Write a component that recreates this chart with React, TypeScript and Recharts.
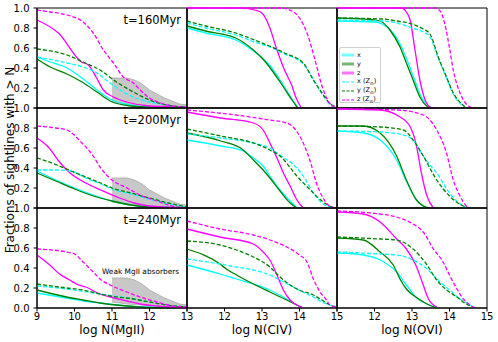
import { ComposedChart, Line, Area, XAxis, YAxis, ReferenceArea } from 'recharts'

type Pt = [number, number]

const FONT = 'DejaVu Sans, sans-serif'

// series order in every panel: x, y, z, x (Zsun), y (Zsun), z (Zsun)
const seriesNames = ['x', 'y', 'z', 'x', 'y', 'z']
const seriesColors = ['cyan', 'green', 'magenta', 'cyan', 'green', 'magenta']
const seriesDashed = [false, false, false, true, true, true]

const times = ['t=160Myr', 't=200Myr', 't=240Myr']
const ionLabels = ['log N(MgII)', 'log N(CIV)', 'log N(OVI)']
const mgTicks = [9, 10, 11, 12, 13]
const ionTicks = [11, 12, 13, 14, 15]
const fracTicks = [0, 0.2, 0.4, 0.6, 0.8, 1.0]

// weak MgII absorbers band
const weakX = [11, 11.2, 11.4, 11.6, 11.8, 12.0, 12.2, 12.4, 12.6, 12.8, 13.0]
const weakLow = [0.06, 0.05, 0.04, 0.035, 0.03, 0.02, 0.015, 0.01, 0.008, 0.005, 0.002]
const weakHigh = [0.3, 0.3, 0.3, 0.28, 0.24, 0.18, 0.14, 0.1, 0.07, 0.04, 0.03]

// t = 160 Myr
const mg160: Pt[][] = [
  [[9, 0.51], [9.35, 0.46], [9.8, 0.4], [10.2, 0.3], [10.6, 0.18], [10.95, 0.09], [11.5, 0.03], [12, 0.01], [13, 0]],
  [[9, 0.49], [9.35, 0.41], [9.8, 0.34], [10.2, 0.26], [10.6, 0.16], [10.95, 0.07], [11.5, 0.02], [12, 0.01], [13, 0]],
  [[9, 0.88], [9.57, 0.75], [10.19, 0.46], [10.37, 0.43], [10.59, 0.3], [10.77, 0.18], [11.04, 0.11], [11.39, 0.06], [12, 0.02], [12.8, 0.01], [13, 0]],
  [[9, 0.51], [9.8, 0.45], [10.23, 0.41], [10.6, 0.35], [10.95, 0.25], [11.3, 0.16], [11.57, 0.11], [12, 0.06], [12.46, 0.03], [13, 0]],
  [[9, 0.59], [9.8, 0.53], [10.23, 0.46], [10.68, 0.38], [11.12, 0.26], [11.57, 0.16], [12, 0.08], [12.46, 0.03], [13, 0.01]],
  [[9, 0.98], [9.35, 0.96], [9.8, 0.93], [10.23, 0.86], [10.5, 0.75], [10.77, 0.58], [11.04, 0.45], [11.3, 0.31], [11.57, 0.25], [11.75, 0.18], [12, 0.1], [12.3, 0.05], [12.6, 0.02], [13, 0.01]],
]
const civ160: Pt[][] = [
  [[11, 0.8], [11.5, 0.75], [12.3, 0.68], [12.77, 0.57], [13, 0.5], [13.2, 0.43], [13.5, 0.27], [13.8, 0.09], [13.97, 0]],
  [[11, 0.82], [11.5, 0.77], [12.3, 0.7], [12.77, 0.58], [13, 0.5], [13.2, 0.41], [13.5, 0.25], [13.8, 0.08], [13.95, 0]],
  [[11, 1], [12.5, 1], [12.8, 0.98], [13, 0.95], [13.2, 0.81], [13.4, 0.58], [13.6, 0.38], [13.8, 0.22], [13.9, 0.11], [14.05, 0]],
  [[11, 0.85], [11.5, 0.8], [12.3, 0.73], [12.8, 0.66], [13.2, 0.61], [13.6, 0.54], [14.1, 0.44], [14.4, 0.27], [14.6, 0.14], [14.8, 0.04], [15, 0]],
  [[11, 0.87], [11.5, 0.82], [12.3, 0.75], [12.8, 0.68], [13.2, 0.62], [13.6, 0.55], [14.1, 0.45], [14.37, 0.28], [14.6, 0.15], [14.8, 0.05], [15, 0.01]],
  [[11, 1], [13.5, 1], [13.8, 0.97], [14, 0.9], [14.2, 0.75], [14.4, 0.5], [14.6, 0.22], [14.8, 0.05], [15, 0]],
]
const ovi160: Pt[][] = [
  [[11, 0.87], [12, 0.86], [12.2, 0.84], [12.45, 0.77], [12.72, 0.61], [12.9, 0.45], [13.07, 0.28], [13.25, 0.11], [13.45, 0.02], [13.55, 0]],
  [[11, 0.9], [12, 0.88], [12.15, 0.87], [12.41, 0.78], [12.68, 0.61], [12.85, 0.45], [13.03, 0.28], [13.21, 0.11], [13.39, 0.02], [13.5, 0]],
  [[11, 1], [12.72, 1], [12.85, 0.96], [12.95, 0.88], [13.08, 0.58], [13.21, 0.28], [13.35, 0.08], [13.48, 0.01], [13.6, 0]],
  [[11, 0.88], [12.2, 0.87], [12.6, 0.85], [13, 0.8], [13.3, 0.76], [13.48, 0.71], [13.7, 0.5], [13.92, 0.3], [14.1, 0.14], [14.3, 0.04], [14.45, 0]],
  [[11, 0.9], [12.2, 0.89], [12.6, 0.87], [13, 0.84], [13.3, 0.79], [13.48, 0.74], [13.7, 0.51], [13.92, 0.31], [14.1, 0.15], [14.3, 0.05], [14.45, 0]],
  [[11, 1], [13.6, 1], [13.75, 0.97], [13.9, 0.8], [14, 0.6], [14.1, 0.38], [14.25, 0.18], [14.37, 0.08], [14.6, 0]],
]

// t = 200 Myr
const mg200: Pt[][] = [
  [[9, 0.37], [9.5, 0.28], [10, 0.2], [10.5, 0.13], [11, 0.07], [11.5, 0.03], [12, 0.01], [13, 0]],
  [[9, 0.35], [9.5, 0.27], [10, 0.19], [10.5, 0.12], [11, 0.07], [11.5, 0.03], [12, 0.01], [13, 0]],
  [[9, 0.7], [9.3, 0.61], [9.6, 0.46], [9.85, 0.36], [10.3, 0.25], [10.7, 0.18], [11.2, 0.1], [11.6, 0.05], [12, 0.02], [13, 0]],
  [[9, 0.38], [9.5, 0.38], [9.9, 0.37], [10.3, 0.3], [10.7, 0.24], [11, 0.19], [11.5, 0.14], [12, 0.09], [12.5, 0.04], [13, 0.01]],
  [[9, 0.5], [9.4, 0.45], [9.85, 0.38], [10.3, 0.31], [10.7, 0.25], [11, 0.2], [11.5, 0.15], [12, 0.1], [12.5, 0.05], [13, 0.01]],
  [[9, 0.82], [9.5, 0.8], [9.8, 0.78], [10.2, 0.65], [10.5, 0.52], [10.7, 0.4], [11, 0.28], [11.4, 0.2], [11.75, 0.13], [12.2, 0.07], [12.6, 0.02], [13, 0]],
]
const civ200: Pt[][] = [
  [[11, 0.68], [11.9, 0.62], [12.5, 0.57], [12.77, 0.5], [13.03, 0.42], [13.21, 0.32], [13.48, 0.18], [13.75, 0.07], [13.93, 0]],
  [[11, 0.75], [11.9, 0.67], [12.5, 0.58], [12.77, 0.48], [13.03, 0.38], [13.21, 0.3], [13.48, 0.17], [13.75, 0.05], [13.93, 0]],
  [[11, 0.96], [11.9, 0.9], [12.77, 0.85], [13.03, 0.78], [13.21, 0.65], [13.4, 0.5], [13.57, 0.35], [13.75, 0.22], [13.93, 0.08], [14.1, 0]],
  [[11, 0.74], [11.9, 0.7], [12.77, 0.65], [13.21, 0.6], [13.48, 0.53], [13.93, 0.4], [14.1, 0.32], [14.37, 0.15], [14.6, 0.05], [14.8, 0.01], [15, 0]],
  [[11, 0.79], [11.9, 0.72], [12.77, 0.65], [13.21, 0.58], [13.48, 0.52], [13.93, 0.32], [14.37, 0.15], [14.6, 0.07], [14.8, 0.02], [15, 0]],
  [[11, 0.98], [12.3, 0.93], [13.2, 0.88], [13.66, 0.85], [13.9, 0.78], [14.1, 0.65], [14.3, 0.45], [14.45, 0.25], [14.6, 0.12], [14.8, 0.02], [15, 0]],
]
const ovi200: Pt[][] = [
  [[11, 0.77], [11.7, 0.75], [12.15, 0.68], [12.59, 0.48], [12.85, 0.27], [13.12, 0.08], [13.4, 0]],
  [[11, 0.82], [11.7, 0.82], [12.15, 0.75], [12.59, 0.52], [12.85, 0.28], [13.12, 0.08], [13.3, 0.02], [13.48, 0]],
  [[11, 0.99], [12.15, 0.98], [12.59, 0.93], [12.94, 0.82], [13.12, 0.62], [13.25, 0.35], [13.4, 0.12], [13.57, 0]],
  [[11, 0.77], [12.15, 0.76], [12.77, 0.73], [13.03, 0.68], [13.3, 0.52], [13.48, 0.43], [13.66, 0.35], [14, 0.15], [14.37, 0.02], [14.55, 0]],
  [[11, 0.82], [12.15, 0.81], [12.77, 0.78], [13.03, 0.68], [13.3, 0.52], [13.66, 0.28], [14, 0.12], [14.37, 0.02], [14.55, 0]],
  [[11, 0.99], [12.59, 0.98], [13.3, 0.93], [13.66, 0.78], [13.92, 0.55], [14.1, 0.28], [14.28, 0.12], [14.45, 0.02], [14.55, 0]],
]

// t = 240 Myr
const mg240: Pt[][] = [
  [[9, 0.15], [9.79, 0.1], [10.23, 0.07], [10.68, 0.05], [11.12, 0.03], [11.57, 0.015], [12.5, 0.003], [13, 0]],
  [[9, 0.18], [9.79, 0.11], [10.23, 0.08], [10.68, 0.05], [11.12, 0.03], [11.57, 0.015], [12, 0.005], [13, 0]],
  [[9, 0.53], [9.34, 0.43], [9.6, 0.34], [9.87, 0.28], [10.05, 0.24], [10.3, 0.21], [10.68, 0.14], [10.95, 0.11], [11.4, 0.07], [11.75, 0.04], [12.2, 0.02], [13, 0]],
  [[9, 0.22], [9.79, 0.19], [10.68, 0.14], [11.57, 0.09], [12, 0.06], [12.46, 0.03], [13, 0.01]],
  [[9, 0.24], [9.79, 0.2], [10.23, 0.18], [10.68, 0.14], [10.95, 0.12], [11.57, 0.09], [12, 0.06], [12.46, 0.03], [13, 0.01]],
  [[9, 0.59], [9.79, 0.56], [10, 0.54], [10.23, 0.46], [10.5, 0.36], [10.68, 0.29], [10.95, 0.23], [11.4, 0.16], [11.75, 0.11], [12.2, 0.06], [12.6, 0.02], [13, 0.01]],
]
const civ240: Pt[][] = [
  [[11, 0.43], [11.88, 0.34], [12.32, 0.29], [12.77, 0.24], [13.21, 0.18], [13.66, 0.09], [13.93, 0.03], [14.1, 0]],
  [[11, 0.59], [11.88, 0.44], [12.05, 0.39], [12.32, 0.33], [12.77, 0.24], [13.21, 0.16], [13.66, 0.08], [13.93, 0.03], [14.1, 0]],
  [[11, 0.79], [11.88, 0.71], [12.77, 0.64], [13.03, 0.56], [13.21, 0.48], [13.4, 0.33], [13.57, 0.18], [13.75, 0.08], [13.93, 0.03], [14.1, 0]],
  [[11, 0.49], [11.88, 0.44], [12.32, 0.41], [12.77, 0.38], [13.21, 0.33], [13.48, 0.28], [13.93, 0.19], [14.37, 0.11], [14.6, 0.06], [14.81, 0.03], [15, 0.01]],
  [[11, 0.67], [11.88, 0.63], [12.32, 0.58], [12.77, 0.51], [13.21, 0.41], [13.48, 0.31], [13.93, 0.19], [14.37, 0.13], [14.6, 0.08], [14.81, 0.03], [15, 0.01]],
  [[11, 0.87], [11.88, 0.79], [12.77, 0.73], [13.21, 0.68], [13.66, 0.61], [14, 0.53], [14.2, 0.46], [14.37, 0.29], [14.55, 0.16], [14.72, 0.08], [14.81, 0.03], [15, 0.01]],
]
const ovi240: Pt[][] = [
  [[11, 0.55], [11.7, 0.53], [12.15, 0.48], [12.59, 0.36], [12.85, 0.23], [13.1, 0.11], [13.4, 0.04], [13.66, 0]],
  [[11, 0.7], [11.7, 0.68], [12.15, 0.56], [12.5, 0.43], [12.68, 0.29], [12.85, 0.19], [13.1, 0.11], [13.4, 0.04], [13.66, 0]],
  [[11, 0.96], [11.7, 0.94], [12.15, 0.86], [12.59, 0.69], [12.85, 0.59], [13.1, 0.43], [13.3, 0.23], [13.44, 0.09], [13.66, 0.01]],
  [[11, 0.56], [12.15, 0.54], [12.59, 0.53], [13.03, 0.48], [13.4, 0.39], [13.75, 0.26], [14, 0.18], [14.28, 0.09], [14.55, 0.03], [14.65, 0]],
  [[11, 0.71], [12.15, 0.69], [12.59, 0.68], [13.03, 0.59], [13.4, 0.43], [13.66, 0.28], [13.92, 0.18], [14.2, 0.11], [14.45, 0.04], [14.63, 0.01]],
  [[11, 0.97], [12.15, 0.94], [12.59, 0.91], [13.03, 0.84], [13.3, 0.76], [13.57, 0.59], [13.83, 0.46], [14, 0.33], [14.2, 0.19], [14.37, 0.09], [14.55, 0.03], [14.68, 0]],
]

const grid: Pt[][][][] = [
  [mg160, civ160, ovi160],
  [mg200, civ200, ovi200],
  [mg240, civ240, ovi240],
]

const PANEL_W = 150
const PANEL_H = 100
const COL_LEFT = [37, 187, 337]
const ROW_TOP = [8, 108, 208]
const PAD_L = 40
const PAD_T = 10
const PAD_R = 10
const PAD_B = 30

const weakBand = weakX.map((x, i) => ({ x, range: [weakLow[i], weakHigh[i]] }))

function Panel({ row, col }: { row: number; col: number }) {
  const series = grid[row][col]
  const domain = col === 0 ? [9, 13] : [11, 15]
  const xTicks = col === 0 ? mgTicks : ionTicks
  const isBottom = row === 2
  const isLeft = col === 0
  const tickStyle = { fill: '#000', fontSize: 10, fontFamily: FONT }

  return (
    <div style={{ position: 'absolute', left: COL_LEFT[col] - PAD_L, top: ROW_TOP[row] - PAD_T }}>
      <ComposedChart
        width={PANEL_W + PAD_L + PAD_R}
        height={PANEL_H + PAD_T + PAD_B}
        margin={{ top: PAD_T, right: PAD_R, left: 0, bottom: 0 }}
      >
        <XAxis
          dataKey="x"
          type="number"
          domain={domain}
          ticks={xTicks}
          interval={0}
          height={PAD_B}
          axisLine={{ stroke: '#000' }}
          tickLine={isBottom ? { stroke: '#000' } : false}
          tickSize={3.5}
          tickMargin={1}
          tick={isBottom ? tickStyle : false}
          tickFormatter={(v: number) => (col > 0 && v === 11 ? '' : String(v))}
        />
        <YAxis
          type="number"
          domain={[0, 1]}
          ticks={fracTicks}
          interval={0}
          width={PAD_L}
          axisLine={{ stroke: '#000' }}
          tickLine={{ stroke: '#000' }}
          tickSize={3.5}
          tickMargin={4}
          tick={isLeft ? tickStyle : false}
          tickFormatter={(v: number) => (row < 2 && v === 0 ? '' : v.toFixed(1))}
        />
        {isLeft && (
          <Area
            data={weakBand}
            dataKey="range"
            type="linear"
            fill="#c8c8c8"
            fillOpacity={1}
            stroke="#a8a8a8"
            strokeWidth={0.8}
            isAnimationActive={false}
          />
        )}
        {series.map((pts, i) => (
          <Line
            key={i}
            data={pts.map(([x, y]) => ({ x, y }))}
            dataKey="y"
            name={seriesNames[i]}
            type="monotone"
            stroke={seriesColors[i]}
            strokeWidth={1.3}
            strokeDasharray={seriesDashed[i] ? '4 2' : undefined}
            dot={false}
            activeDot={false}
            isAnimationActive={false}
          />
        ))}
        <ReferenceArea
          x1={domain[0]}
          x2={domain[1]}
          y1={0}
          y2={1}
          fill="none"
          fillOpacity={0}
          stroke="#000"
          strokeWidth={1}
        />
      </ComposedChart>
    </div>
  )
}

function LegendBox() {
  return (
    <div
      style={{
        position: 'absolute',
        left: 339,
        top: 47,
        width: 42,
        height: 56,
        border: '1px solid #d0d0d0',
        borderRadius: 2,
        background: 'rgba(255,255,255,0.85)',
        boxSizing: 'border-box',
        padding: '2px 0 0 2px',
        fontFamily: FONT,
        fontSize: 6.5,
        color: '#000',
      }}
    >
      {seriesNames.map((n, i) => (
        <div key={i} style={{ display: 'flex', alignItems: 'center', height: 9 }}>
          <svg width={12} height={6} style={{ marginRight: 3 }}>
            <line
              x1={0}
              y1={3}
              x2={12}
              y2={3}
              stroke={seriesColors[i]}
              strokeOpacity={seriesDashed[i] ? 1 : 0.55}
              strokeWidth={seriesDashed[i] ? 1.2 : 3}
              strokeDasharray={seriesDashed[i] ? '3 1.5' : undefined}
            />
          </svg>
          <span>
            {n}
            {seriesDashed[i] && (
              <>
                {' (Z'}
                <sub style={{ fontSize: 4.5 }}>⊙</sub>
                {')'}
              </>
            )}
          </span>
        </div>
      ))}
    </div>
  )
}

export default function App() {
  return (
    <div
      style={{
        position: 'absolute',
        left: 0,
        top: 0,
        width: 498,
        height: 342,
        background: '#fff',
        fontFamily: FONT,
        overflow: 'hidden',
      }}
    >
      {[0, 1, 2].map((r) => [0, 1, 2].map((c) => <Panel key={`${r}-${c}`} row={r} col={c} />))}
      {times.map((t, r) => (
        <div
          key={t}
          style={{
            position: 'absolute',
            left: 90,
            width: 91,
            top: ROW_TOP[r] + 6,
            textAlign: 'right',
            fontSize: 11.5,
            lineHeight: '12px',
          }}
        >
          {t}
        </div>
      ))}
      <div style={{ position: 'absolute', left: 102, top: 267, fontSize: 7.4, lineHeight: '9px', whiteSpace: 'nowrap' }}>
        Weak MgII absorbers
      </div>
      {ionLabels.map((l, c) => (
        <div
          key={l}
          style={{
            position: 'absolute',
            left: COL_LEFT[c],
            width: PANEL_W,
            top: 324,
            textAlign: 'center',
            fontSize: 12,
            lineHeight: '13px',
          }}
        >
          {l}
        </div>
      ))}
      <div
        style={{
          position: 'absolute',
          left: 10,
          top: 160,
          transform: 'translate(-50%, -50%) rotate(-90deg)',
          whiteSpace: 'nowrap',
          fontSize: 12,
          lineHeight: '13px',
        }}
      >
        Fractions of sightlines with &gt; N
      </div>
      <LegendBox />
    </div>
  )
}
